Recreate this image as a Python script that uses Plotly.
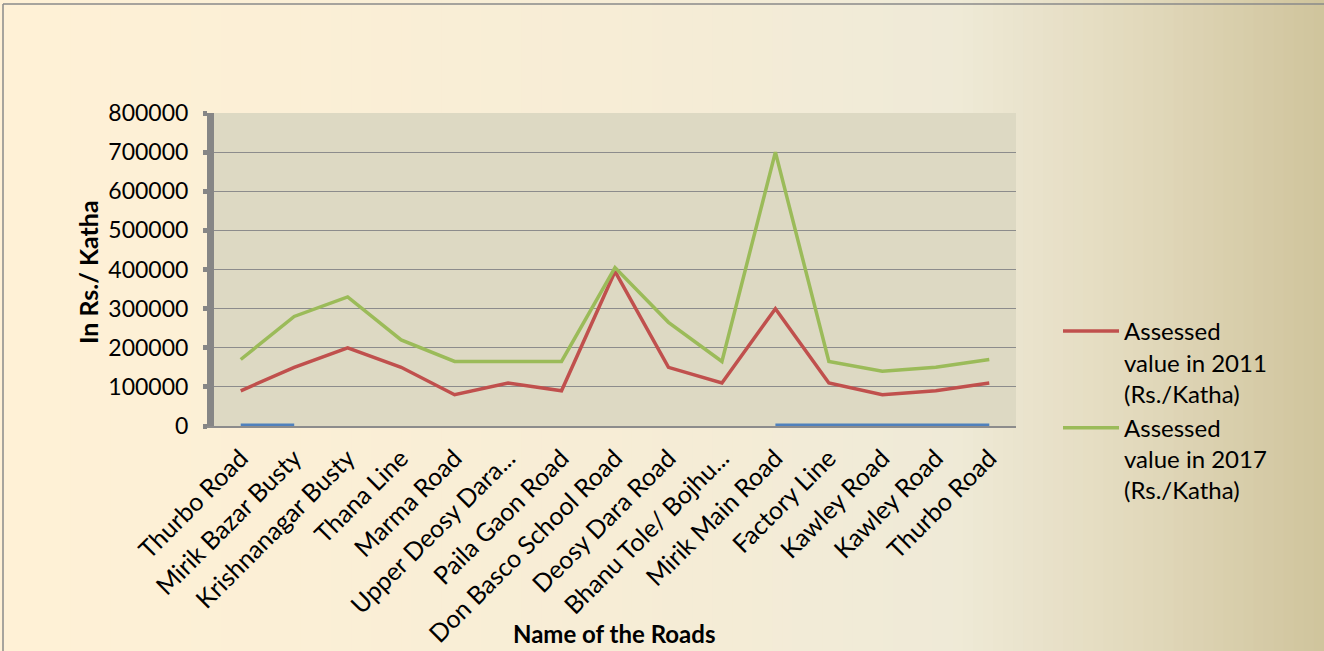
import plotly.graph_objects as go

roads = ["Thurbo Road", "Mirik Bazar Busty", "Krishnanagar Busty", "Thana Line", "Marma Road",
         "Upper Deosy Dara...", "Paila Gaon Road", "Don Basco School Road", "Deosy Dara Road",
         "Bhanu Tole/ Bojhu...", "Mirik Main Road", "Factory Line", "Kawley Road", "Kawley Road",
         "Thurbo Road"]
value_2011 = [90000, 150000, 200000, 150000, 80000, 110000, 90000, 395000, 150000, 110000,
              300000, 110000, 80000, 90000, 110000]
value_2017 = [170000, 280000, 330000, 220000, 165000, 165000, 165000, 405000, 265000, 165000,
              700000, 165000, 140000, 150000, 170000]
value_other = [0, 0, None, None, None, None, None, None, None, None, 0, 0, 0, 0, 0]
y_ticks = [0, 100000, 200000, 300000, 400000, 500000, 600000, 700000, 800000]

x = list(range(len(roads)))

W, H = 1324, 651
L, R, T, B = 214, 308, 113, 225
pw, ph = W - L - R, H - T - B

fig = go.Figure()
fig.add_trace(go.Scatter(x=x, y=value_other, mode="lines", line=dict(color="#4F81BD", width=5),
                         showlegend=False, hoverinfo="skip", cliponaxis=False))
fig.add_trace(go.Scatter(x=x, y=value_2011, mode="lines", line=dict(color="#C0504D", width=3.5),
                         name="Assessed<br>value in 2011<br>(Rs./Katha)"))
fig.add_trace(go.Scatter(x=x, y=value_2017, mode="lines", line=dict(color="#9BBB59", width=3.5),
                         name="Assessed<br>value in 2017<br>(Rs./Katha)"))

# gradient background strips
stops = [(0.0, (255, 241, 214)), (0.45, (247, 237, 214)), (0.72, (239, 234, 215)),
         (0.86, (226, 217, 188)), (1.0, (208, 196, 156))]

def col(t):
    for (t0, c0), (t1, c1) in zip(stops[:-1], stops[1:]):
        if t <= t1:
            f = (t - t0) / (t1 - t0) if t1 > t0 else 0
            return "rgb(%d,%d,%d)" % tuple(round(a + (b - a) * f) for a, b in zip(c0, c1))
    return "rgb(%d,%d,%d)" % stops[-1][1]

shapes = []
n = 132
for i in range(n):
    px0 = W * i / n
    px1 = W * (i + 1) / n + 1
    shapes.append(dict(type="rect", xref="paper", yref="paper", layer="below",
                       x0=(px0 - L) / pw, x1=(px1 - L) / pw,
                       y0=-B / ph - 0.01, y1=(H - B) / ph + 0.01,
                       fillcolor=col((i + 0.5) / n), line=dict(width=0)))
shapes.append(dict(type="rect", xref="paper", yref="paper", layer="below",
                   x0=0, x1=1, y0=0, y1=1, fillcolor="#DDD9C3", line=dict(width=0)))
shapes.append(dict(type="line", xref="paper", yref="paper", layer="above",
                   x0=(3 - L) / pw, x1=(3 - L) / pw, y0=-B / ph - 0.01, y1=(H - 4 - B) / ph,
                   line=dict(color="#8A8A8A", width=1.5)))
shapes.append(dict(type="line", xref="paper", yref="paper", layer="above",
                   x0=(3 - L) / pw, x1=(W + 5 - L) / pw, y0=(H - 4 - B) / ph, y1=(H - 4 - B) / ph,
                   line=dict(color="#8A8A8A", width=1.5)))

font = "Lato, 'Open Sans', sans-serif"
annotations = [
    dict(text="<b>Name of the Roads</b>", xref="paper", yref="paper",
         x=(614 - L) / pw, y=-(633 - (H - B)) / ph, xanchor="center", yanchor="middle",
         showarrow=False, font=dict(size=24, family=font, color="#000")),
    dict(text="<b>In Rs./ Katha</b>", xref="paper", yref="paper", textangle=-90,
         x=(88 - L) / pw, y=((H - B) - 272) / ph, xanchor="center", yanchor="middle",
         showarrow=False, font=dict(size=25, family=font, color="#000")),
]

fig.update_layout(
    width=W, height=H,
    margin=dict(l=L, r=R, t=T, b=B, autoexpand=False),
    paper_bgcolor="rgba(0,0,0,0)",
    plot_bgcolor="rgba(0,0,0,0)",
    shapes=shapes,
    annotations=annotations,
    font=dict(family=font, color="#000000"),
    showlegend=True,
    legend=dict(x=(1058 - L) / pw, y=((H - B) - 309) / ph, xanchor="left", yanchor="top",
                bgcolor="rgba(0,0,0,0)", valign="top", itemwidth=56,
                font=dict(size=24, family=font, color="#000"), tracegroupgap=0),
    xaxis=dict(range=[-0.5, len(roads) - 0.5], tickmode="array", tickvals=x, ticktext=roads,
               tickangle=-45, tickfont=dict(size=25), showgrid=False, zeroline=False,
               showline=True, linecolor="#8C8C8C", linewidth=1.5, ticks="",
               ticklabelstandoff=6, layer="below traces", automargin=False),
    yaxis=dict(range=[0, 800000], tickmode="array", tickvals=y_ticks,
               ticktext=[str(v) for v in y_ticks], tickfont=dict(size=23),
               showgrid=True, gridcolor="#8C8C8C", gridwidth=1, zeroline=False,
               showline=True, linecolor="#868686", linewidth=7, ticks="outside",
               ticklen=4, tickwidth=5, tickcolor="#868686", ticklabelstandoff=10,
               automargin=False),
)
fig.write_html("out.html", config={"displayModeBar": False},
               post_script="document.body.style.margin='0';document.body.style.overflow='hidden';")
